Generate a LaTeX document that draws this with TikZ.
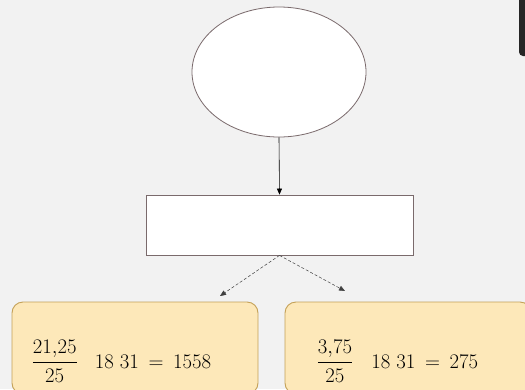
\documentclass[tikz,border=0pt]{standalone}
\usepackage{amsmath}
\usepackage{tikz}
\usetikzlibrary{shapes.geometric,arrows.meta}
\definecolor{bggray}{HTML}{F2F2F2}
\definecolor{edgegray}{HTML}{7A6A6C}
\definecolor{boxfill}{HTML}{FDE8B9}
\definecolor{boxedge}{HTML}{C4A157}
\begin{document}
\begin{tikzpicture}[x=1pt, y=-1pt]
        \tikzstyle{every node}=[inner sep=0pt, font=\fontsize{20}{24}\selectfont]
        \tikzstyle{outline}=[draw=edgegray, fill=white, line width=0.8pt]
        \tikzstyle{result}=[draw=boxedge, fill=boxfill, line width=0.9pt, rounded corners=11pt, minimum width=246pt, minimum height=92pt]
        \tikzstyle{link}=[-{Triangle[length=6pt,width=5pt]}, black, line width=0.6pt]
        \tikzstyle{split}=[-{Triangle[length=6pt,width=5pt]}, black!75, line width=0.5pt, densely dashed]
        \fill[bggray] (0,0) rectangle (525,389);
        \useasboundingbox (0,0) rectangle (525,389);
        \fill[black!85, rounded corners=4pt] (519,-6) rectangle (535,56);
        \node [outline, ellipse, minimum width=174pt, minimum height=130pt] (circ) at (279,72) {};
        \node [outline, rectangle, minimum width=267pt, minimum height=60pt] (rect) at (279.5,225) {};
        \node [result] (left) at (135,348) {};
        \node [result] (right) at (408,348) {};
        \coordinate (lend) at (220,296);
        \coordinate (rend) at (345,291);
        \node [anchor=base west] (ltext) at (31.5,368) {$\dfrac{21{,}25}{25}\hspace{17pt}18\hspace{6pt}31\hspace{4pt} = \hspace{4pt}1558$};
        \node [anchor=base west] (rtext) at (316.5,368) {$\dfrac{3{,}75}{25}\hspace{18pt}18\hspace{6pt}31\hspace{4pt} = \hspace{4pt}275$};
        \draw [link] (circ.south) -- (rect.north);
        \draw [split] (rect.south) -- (lend);
        \draw [split] (rect.south) -- (rend);
    \end{tikzpicture}
\end{document}
